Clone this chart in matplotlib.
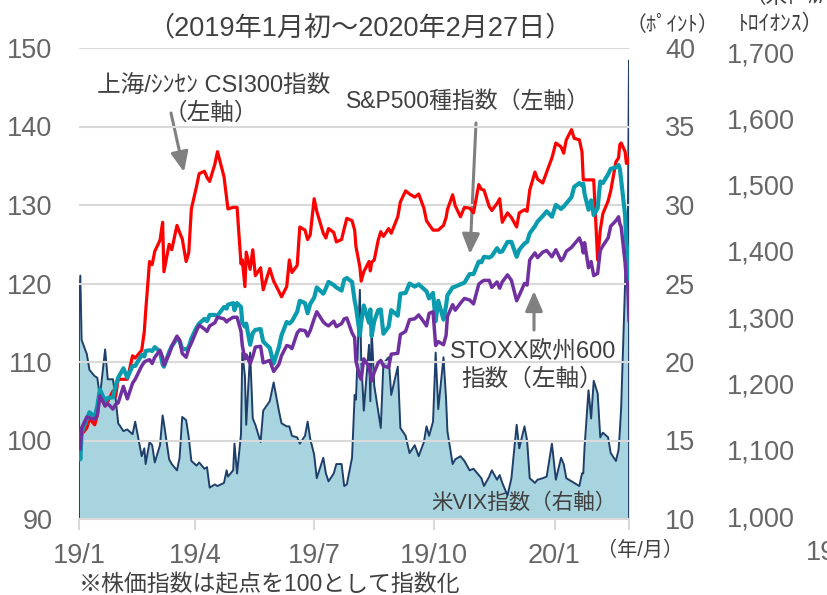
import matplotlib
matplotlib.use("Agg")
import matplotlib.pyplot as plt
import pandas as pd

plt.rcParams["font.family"] = ["Liberation Sans", "Noto Sans CJK JP", "DejaVu Sans"]

W, H = 827, 595

# ── data (indices: start = 100, VIX: points) ───────────────────────────
dates = [
    "2019-01-02", "2019-01-03", "2019-01-04", "2019-01-08", "2019-01-10", "2019-01-14",
    "2019-01-16", "2019-01-18", "2019-01-22", "2019-01-24", "2019-01-28", "2019-01-30",
    "2019-02-01", "2019-02-05", "2019-02-08", "2019-02-12", "2019-02-14", "2019-02-19",
    "2019-02-21", "2019-02-22", "2019-02-25", "2019-02-27",
    "2019-03-01", "2019-03-05", "2019-03-07", "2019-03-08", "2019-03-12", "2019-03-14",
    "2019-03-18", "2019-03-20", "2019-03-22", "2019-03-25", "2019-03-27", "2019-03-29",
    "2019-04-02", "2019-04-04", "2019-04-08", "2019-04-10", "2019-04-12", "2019-04-16",
    "2019-04-18", "2019-04-23", "2019-04-25", "2019-04-26", "2019-04-30",
    "2019-05-01", "2019-05-03", "2019-05-06", "2019-05-07", "2019-05-09", "2019-05-10",
    "2019-05-13", "2019-05-15", "2019-05-17", "2019-05-21", "2019-05-23", "2019-05-28",
    "2019-05-31",
    "2019-06-04", "2019-06-06", "2019-06-10", "2019-06-12", "2019-06-14", "2019-06-18",
    "2019-06-20", "2019-06-24", "2019-06-26", "2019-06-28",
    "2019-07-01", "2019-07-03", "2019-07-08", "2019-07-10", "2019-07-12", "2019-07-16",
    "2019-07-18", "2019-07-22", "2019-07-24", "2019-07-26", "2019-07-30",
    "2019-08-01", "2019-08-02", "2019-08-05", "2019-08-06", "2019-08-08", "2019-08-12",
    "2019-08-13", "2019-08-14", "2019-08-16", "2019-08-19", "2019-08-21", "2019-08-23",
    "2019-08-27", "2019-08-29",
    "2019-09-03", "2019-09-05", "2019-09-09", "2019-09-12", "2019-09-16", "2019-09-19",
    "2019-09-23", "2019-09-25", "2019-09-27", "2019-09-30",
    "2019-10-02", "2019-10-04", "2019-10-08", "2019-10-10", "2019-10-11", "2019-10-15",
    "2019-10-17", "2019-10-21", "2019-10-24", "2019-10-28", "2019-10-31",
    "2019-11-04", "2019-11-06", "2019-11-08", "2019-11-12", "2019-11-14", "2019-11-18",
    "2019-11-20", "2019-11-22", "2019-11-26", "2019-11-29",
    "2019-12-03", "2019-12-05", "2019-12-09", "2019-12-11", "2019-12-13", "2019-12-17",
    "2019-12-19", "2019-12-23", "2019-12-26", "2019-12-30",
    "2020-01-02", "2020-01-06", "2020-01-08", "2020-01-10", "2020-01-14", "2020-01-16",
    "2020-01-20", "2020-01-22", "2020-01-23", "2020-01-24", "2020-01-27", "2020-01-29",
    "2020-01-31",
    "2020-02-03", "2020-02-05", "2020-02-07", "2020-02-11", "2020-02-13", "2020-02-17",
    "2020-02-19", "2020-02-20", "2020-02-21", "2020-02-24", "2020-02-25", "2020-02-26",
    "2020-02-27",
]

csi300 = [
    98.6, 98.5, 100.8, 101.6, 102.8, 102.0, 103.2, 106.0, 104.4, 105.0, 106.3, 105.6,
    107.8, 107.8, 107.8, 110.8, 110.5, 111.5, 113.9, 116.4, 122.8, 122.4,
    124.1, 125.5, 127.8, 121.5, 125.0, 124.3, 127.4, 126.5, 125.7, 122.8, 123.9, 129.5,
    132.4, 134.0, 134.3, 133.5, 133.0, 135.2, 136.8, 133.6, 130.8, 129.5, 129.7,
    129.7, 129.7, 122.5, 123.0, 119.6, 124.0, 121.8, 124.3, 121.0, 122.0, 119.2, 121.9, 120.3,
    119.0, 118.3, 119.6, 123.0, 121.4, 122.3, 127.2, 126.8, 125.6, 126.2,
    130.8, 129.2, 126.4, 125.8, 127.0, 126.5, 125.3, 125.6, 127.0, 128.3, 128.0,
    126.8, 124.7, 122.1, 120.3, 121.5, 122.8, 121.6, 122.7, 123.0, 125.5, 126.6, 126.0, 127.0, 126.4,
    128.5, 130.4, 131.8, 131.4, 131.0, 131.4, 129.6, 128.0, 127.5, 126.8,
    126.8, 126.8, 127.4, 128.4, 129.4, 131.3, 129.9, 128.5, 129.7, 129.6, 129.0,
    132.6, 132.0, 131.9, 129.8, 129.3, 130.2, 130.8, 127.8, 129.0, 128.4,
    127.2, 129.0, 129.4, 129.2, 131.9, 134.2, 133.3, 132.8, 134.2, 136.0,
    137.9, 137.4, 136.6, 138.3, 139.6, 138.5, 138.3, 136.8, 133.2, 133.2, 133.2, 133.2, 133.2,
    123.0, 126.8, 128.9, 130.5, 131.8, 135.5, 136.0, 137.7, 137.9, 136.8, 135.3, 135.3, 135.9,
]

sp500 = [
    100.1, 97.6, 101.0, 102.7, 103.6, 103.0, 104.4, 106.5, 105.0, 105.4, 105.5, 106.9,
    108.0, 109.2, 108.0, 109.5, 109.5, 110.9, 110.7, 111.4, 111.5, 111.4,
    111.9, 111.3, 109.7, 109.4, 111.3, 112.0, 113.0, 112.7, 111.7, 111.6, 111.9, 113.0,
    114.4, 114.9, 115.5, 115.2, 116.0, 116.0, 115.9, 117.0, 116.8, 117.3, 117.5,
    116.6, 117.5, 117.0, 115.0, 114.5, 114.9, 112.2, 113.7, 114.1, 114.2, 112.6, 111.8, 109.8,
    111.9, 113.4, 115.1, 114.9, 115.2, 116.4, 117.8, 117.5, 116.2, 117.4,
    118.2, 119.5, 118.7, 119.4, 120.2, 119.8, 119.5, 119.1, 120.5, 120.7, 120.2,
    117.8, 117.0, 113.4, 115.0, 117.2, 115.0, 116.7, 113.3, 115.2, 116.6, 116.7, 113.6, 114.5, 116.6,
    115.9, 118.7, 118.8, 120.0, 119.6, 119.9, 119.3, 119.0, 118.1, 118.8,
    115.2, 117.8, 115.4, 117.2, 118.5, 119.5, 119.6, 119.9, 120.1, 121.2, 121.2,
    122.8, 122.7, 123.4, 123.3, 123.5, 124.5, 124.0, 124.1, 125.3, 125.3,
    123.4, 124.3, 125.1, 125.3, 126.4, 127.3, 127.9, 128.6, 129.2, 128.5,
    130.0, 129.5, 129.8, 130.2, 131.0, 132.3, 132.8, 132.5, 132.7, 131.4, 129.4, 130.6, 128.7,
    129.6, 133.0, 132.8, 133.9, 134.6, 134.8, 135.1, 134.6, 133.2, 128.7, 124.8, 124.3, 118.8,
]

stoxx600 = [
    100.1, 98.9, 101.6, 103.0, 102.9, 102.7, 103.2, 105.7, 104.4, 104.7, 104.0, 104.6,
    104.8, 106.9, 105.3, 107.3, 107.8, 109.5, 110.0, 110.1, 110.3, 109.8,
    110.6, 111.5, 110.6, 109.6, 111.0, 112.0, 113.3, 112.8, 111.1, 110.6, 111.7, 112.4,
    114.0, 114.7, 114.2, 113.9, 114.6, 115.0, 115.7, 115.5, 115.1, 115.3, 115.7,
    115.7, 115.7, 113.9, 112.1, 110.4, 110.9, 109.8, 110.7, 111.9, 112.0, 109.9, 110.2, 108.8,
    109.7, 110.8, 112.1, 112.0, 111.7, 113.7, 114.1, 114.0, 113.3, 114.0,
    115.5, 116.4, 115.1, 114.8, 114.6, 115.2, 114.5, 114.9, 115.5, 115.6, 113.7,
    113.1, 110.1, 108.1, 107.8, 110.4, 109.4, 108.5, 107.6, 108.7, 109.9, 110.2, 109.5, 109.3, 111.0,
    111.1, 113.5, 113.9, 115.4, 115.5, 116.0, 115.1, 114.6, 116.2, 116.4,
    112.1, 112.6, 112.2, 113.4, 115.8, 117.3, 116.6, 117.5, 118.1, 117.9, 117.4,
    119.9, 120.2, 120.4, 120.4, 119.5, 120.2, 119.4, 120.2, 121.1, 120.4,
    117.8, 118.5, 120.0, 119.8, 123.0, 123.9, 123.3, 124.0, 124.2, 123.4,
    124.3, 122.9, 123.3, 124.1, 124.6, 125.0, 125.8, 124.9, 123.9, 125.2, 122.0, 122.8, 121.0,
    121.3, 124.2, 124.8, 125.8, 127.3, 128.0, 128.5, 127.6, 127.2, 122.7, 120.3, 120.1, 115.3,
]

vix = [
    23.2, 25.5, 21.4, 20.5, 19.5, 19.1, 19.0, 17.8, 20.8, 18.9, 18.9, 17.7,
    16.1, 15.6, 15.7, 15.4, 16.2, 14.0, 14.5, 13.5, 14.9, 14.7,
    13.6, 14.7, 16.6, 16.1, 13.8, 13.5, 13.1, 13.9, 16.5, 16.3, 15.2, 13.7,
    13.4, 13.6, 13.2, 13.3, 12.0, 12.2, 12.1, 12.3, 13.1, 12.7, 13.1,
    14.8, 12.9, 15.4, 20.6, 19.1, 16.0, 20.6, 16.4, 16.0, 14.9, 16.9, 17.5, 18.7,
    16.9, 16.1, 15.9, 15.9, 15.3, 15.2, 14.8, 15.3, 16.2, 15.1,
    14.1, 12.6, 13.9, 12.9, 12.4, 12.9, 13.5, 13.5, 12.1, 12.2, 13.9,
    17.9, 17.6, 24.6, 20.2, 16.9, 21.1, 17.5, 22.1, 18.5, 16.9, 15.8, 19.9, 20.3, 17.9,
    19.7, 15.8, 15.3, 14.2, 14.7, 14.0, 14.9, 15.9, 15.3, 16.2,
    20.6, 17.0, 20.3, 17.6, 15.6, 13.5, 13.8, 14.0, 13.7, 13.1, 13.2,
    12.8, 12.6, 12.1, 12.7, 13.1, 12.5, 12.8, 12.3, 11.5, 12.6,
    16.0, 14.5, 15.9, 15.0, 12.6, 12.3, 12.5, 12.6, 12.7, 14.8,
    12.5, 13.9, 13.5, 12.6, 12.4, 12.3, 12.1, 12.9, 12.9, 14.6, 18.2, 16.4, 18.8,
    18.0, 15.2, 15.5, 15.2, 14.2, 13.7, 14.4, 15.6, 17.1, 25.0, 27.9, 27.6, 39.2,
]

x_ticks = ["2019-01-02", "2019-04-01", "2019-07-01", "2019-10-01", "2020-01-01"]
x_labels = ["19/1", "19/4", "19/7", "19/10", "20/1"]
left_ticks = [90, 100, 110, 120, 130, 140, 150]
vix_ticks = [10, 15, 20, 25, 30, 35, 40]
gold_ticks = [1000, 1100, 1200, 1300, 1400, 1500, 1600, 1700]

C_CSI = "#FF0000"
C_SPX = "#0A9BAE"
C_STX = "#7030A0"
C_VIX = "#1F3F6B"
C_FILL = "#A8D4DF"
C_GRID = "#D9D9D9"
C_TXT = "#666666"
C_ANN = "#404040"
C_ARR = "#808080"


def P(x, y):
    """image pixel (top-left origin) -> figure fraction"""
    return (x / W, 1 - y / H)


def ftext(x, y, s, **kw):
    kw.setdefault("ha", "center")
    kw.setdefault("va", "center")
    fig.text(*P(x, y), s, **kw)


def arrow(x0, y0, x1, y1):
    fig.add_artist(matplotlib.patches.FancyArrowPatch(
        P(x0, y0), P(x1, y1), transform=fig.transFigure,
        arrowstyle="-|>,head_width=0.24,head_length=0.55", mutation_scale=22,
        color=C_ARR, lw=2.2, shrinkA=0, shrinkB=0))


d = pd.to_datetime(dates)
x0, x1 = pd.Timestamp("2019-01-02"), pd.Timestamp("2020-02-27")

fig = plt.figure(figsize=(W / 100, H / 100), dpi=100)
ax = fig.add_axes([79 / W, 1 - 519 / H, 550 / W, 471 / H])
ax_v = ax.twinx()
ax.set_zorder(ax_v.get_zorder() + 1)
ax.patch.set_visible(False)

# VIX area (right axis)
ax_v.fill_between(d, vix, 10, color=C_FILL, lw=0)
ax_v.plot([d[0], *d, d[-1]], [10, *vix, 10], color=C_VIX, lw=1.4)

# stock indices (left axis)
ax.plot(d, csi300, color=C_CSI, lw=2.3)
ax.plot(d, sp500, color=C_SPX, lw=3.0)
ax.plot(d, stoxx600, color=C_STX, lw=2.5)

ax.set_xlim(x0, x1)
ax.set_ylim(90, 150)
ax_v.set_ylim(10, 40)

ax.set_yticks(left_ticks)
ax.grid(axis="y", color=C_GRID, lw=1.5)
ax.set_axisbelow(True)
ax.tick_params(axis="y", length=0, pad=19, labelsize=19.5, labelcolor=C_TXT)
ax_v.set_yticks(vix_ticks)
ax_v.tick_params(axis="y", length=0, pad=26, labelsize=19.5, labelcolor=C_TXT)

ax.set_xticks(pd.to_datetime(x_ticks + ["2020-02-27"]))
ax.set_xticklabels(x_labels + [""])
ax.tick_params(axis="x", length=8, width=1.5, color=C_GRID, pad=9,
               labelsize=19.5, labelcolor=C_TXT)

for a in (ax, ax_v):
    for s in a.spines.values():
        s.set_visible(False)
ax.spines["bottom"].set_visible(True)
ax.spines["bottom"].set_color(C_GRID)
ax.spines["bottom"].set_linewidth(1.5)

# neighbouring gold-price axis (cropped chart on the right)
ax_g = fig.add_axes([795 / W, 1 - 516 / H, 0.001, 464 / H])
ax_g.set_ylim(1000, 1700)
ax_g.set_yticks(gold_ticks)
ax_g.set_yticklabels([f"{t:,}" for t in gold_ticks])
ax_g.tick_params(axis="y", length=0, pad=0, labelsize=19.5, labelcolor=C_TXT)
ax_g.set_xticks([])
for s in ax_g.spines.values():
    s.set_visible(False)
ax_g.patch.set_visible(False)

# texts
ftext(360, 28, "（2019年1月初～2020年2月27日）", fontsize=19.5, color=C_ANN)
ftext(214, 87, "上海/ｼﾝｾﾝ CSI300指数", fontsize=17, color=C_ANN)
ftext(211, 114, "（左軸）", fontsize=17, color=C_ANN)
arrow(171, 113, 184, 172)
ftext(468, 101, "S&P500種指数（左軸）", fontsize=16.5, color=C_ANN)
arrow(476, 123, 470, 254)
ftext(533, 352, "STOXX欧州600", fontsize=17, color=C_ANN)
ftext(532, 380, "指数（左軸）", fontsize=17, color=C_ANN)
arrow(534, 330, 534, 291)
ftext(617, 503, "米VIX指数（右軸）", fontsize=15.5, color=C_ANN, ha="right")
ftext(672, 25, "（ﾎﾟｲﾝﾄ）", fontsize=15, color=C_ANN)
ftext(781, 24, "ﾄﾛｲｵﾝｽ）", fontsize=15.5, color=C_ANN)
ftext(785, -3, "（米ﾄﾞﾙ/", fontsize=15.5, color=C_ANN)
ftext(640, 550, "（年/月）", fontsize=14.5, color=C_ANN)
ftext(806, 553, "19/1", fontsize=19.5, color=C_TXT, ha="left")
ftext(79, 585, "※株価指数は起点を100として指数化", fontsize=16.5, color=C_ANN, ha="left")

fig.savefig("out.png", dpi=100, facecolor="white")
